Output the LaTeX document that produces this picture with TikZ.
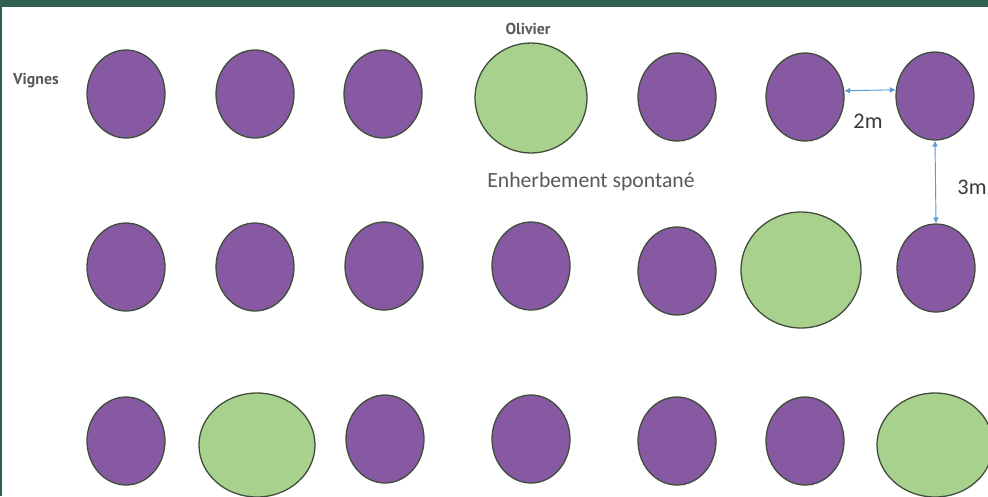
\documentclass[tikz,border=0pt]{standalone}
\usepackage{fontspec}
\setmainfont{Carlito}
\newfontfamily\tagfont{PT Sans}
\usepackage{xcolor}
\definecolor{plan-band}{HTML}{30614F}
\definecolor{plan-vine}{HTML}{8759A3}
\definecolor{plan-olive}{HTML}{A9D18E}
\definecolor{plan-edge}{HTML}{3F4D3A}
\definecolor{plan-dim}{HTML}{5B9BD5}
\definecolor{plan-ink}{HTML}{3A3A3A}
\definecolor{plan-soft}{HTML}{595959}
\usetikzlibrary{arrows.meta,shapes.geometric}

\begin{document}
\begin{tikzpicture}[
    x=0.03cm, y=-0.03cm,
    vine/.style={ellipse, inner sep=0pt, fill=plan-vine, draw=plan-edge, line width=1.1pt, minimum width=2.34cm, minimum height=2.64cm},
    olive/.style={ellipse, inner sep=0pt, fill=plan-olive, draw=plan-edge, line width=1.1pt},
    tag/.style={font=\tagfont\bfseries\fontsize{13.5}{16}\selectfont, text=plan-soft},
    measure/.style={font=\fontsize{19}{22}\selectfont, text=plan-ink},
    dim/.style={{Latex[length=5pt,width=5pt]}-{Latex[length=5pt,width=5pt]}, draw=plan-dim, line width=0.8pt},
]
\path[use as bounding box, fill=white] (0,0) rectangle (988,496);
\fill[plan-band] (0,0) rectangle (988,7);
\fill[plan-band] (0,0) rectangle (2,496);

% first row
\node[vine] (vine11) at (126,94) {};
\node[vine] (vine12) at (255,94) {};
\node[vine] (vine13) at (383,94) {};
\node[olive, minimum width=3.36cm, minimum height=3.3cm] (olive14) at (531,98) {};
\node[vine] (vine15) at (677,97) {};
\node[vine] (vine16) at (805,97) {};
\node[vine] (vine17) at (935,96) {};

% second row
\node[vine] (vine21) at (126,267) {};
\node[vine] (vine22) at (255,267) {};
\node[vine] (vine23) at (384,266) {};
\node[vine] (vine24) at (531,266) {};
\node[vine] (vine25) at (677,271) {};
\node[olive, minimum width=3.6cm, minimum height=3.48cm] (olive26) at (801,270) {};
\node[vine] (vine27) at (936,268) {};

% third row
\node[vine] (vine31) at (126,441) {};
\node[olive, minimum width=3.48cm, minimum height=3.12cm] (olive32) at (257,445) {};
\node[vine] (vine33) at (385,439) {};
\node[vine] (vine34) at (531,439) {};
\node[vine] (vine35) at (677,441) {};
\node[vine] (vine36) at (805,441) {};
\node[olive, minimum width=3.48cm, minimum height=3.12cm] (olive37) at (935,445) {};

\node[tag] (vignes) at (36,81) {Vignes};
\node[tag] (olivier) at (528,29) {Olivier};
\node[font=\fontsize{18.5}{22}\selectfont, text=plan-soft] (enherbement) at (591,182) {Enherbement spontané};

\draw[dim] (vine16.9) -- (vine17.171);
\draw[dim] (vine17.south) -- (vine27.north);
\node[measure] (rowgap) at (868,121) {2m};
\node[measure] (linegap) at (972,187) {3m};
\end{tikzpicture}
\end{document}
